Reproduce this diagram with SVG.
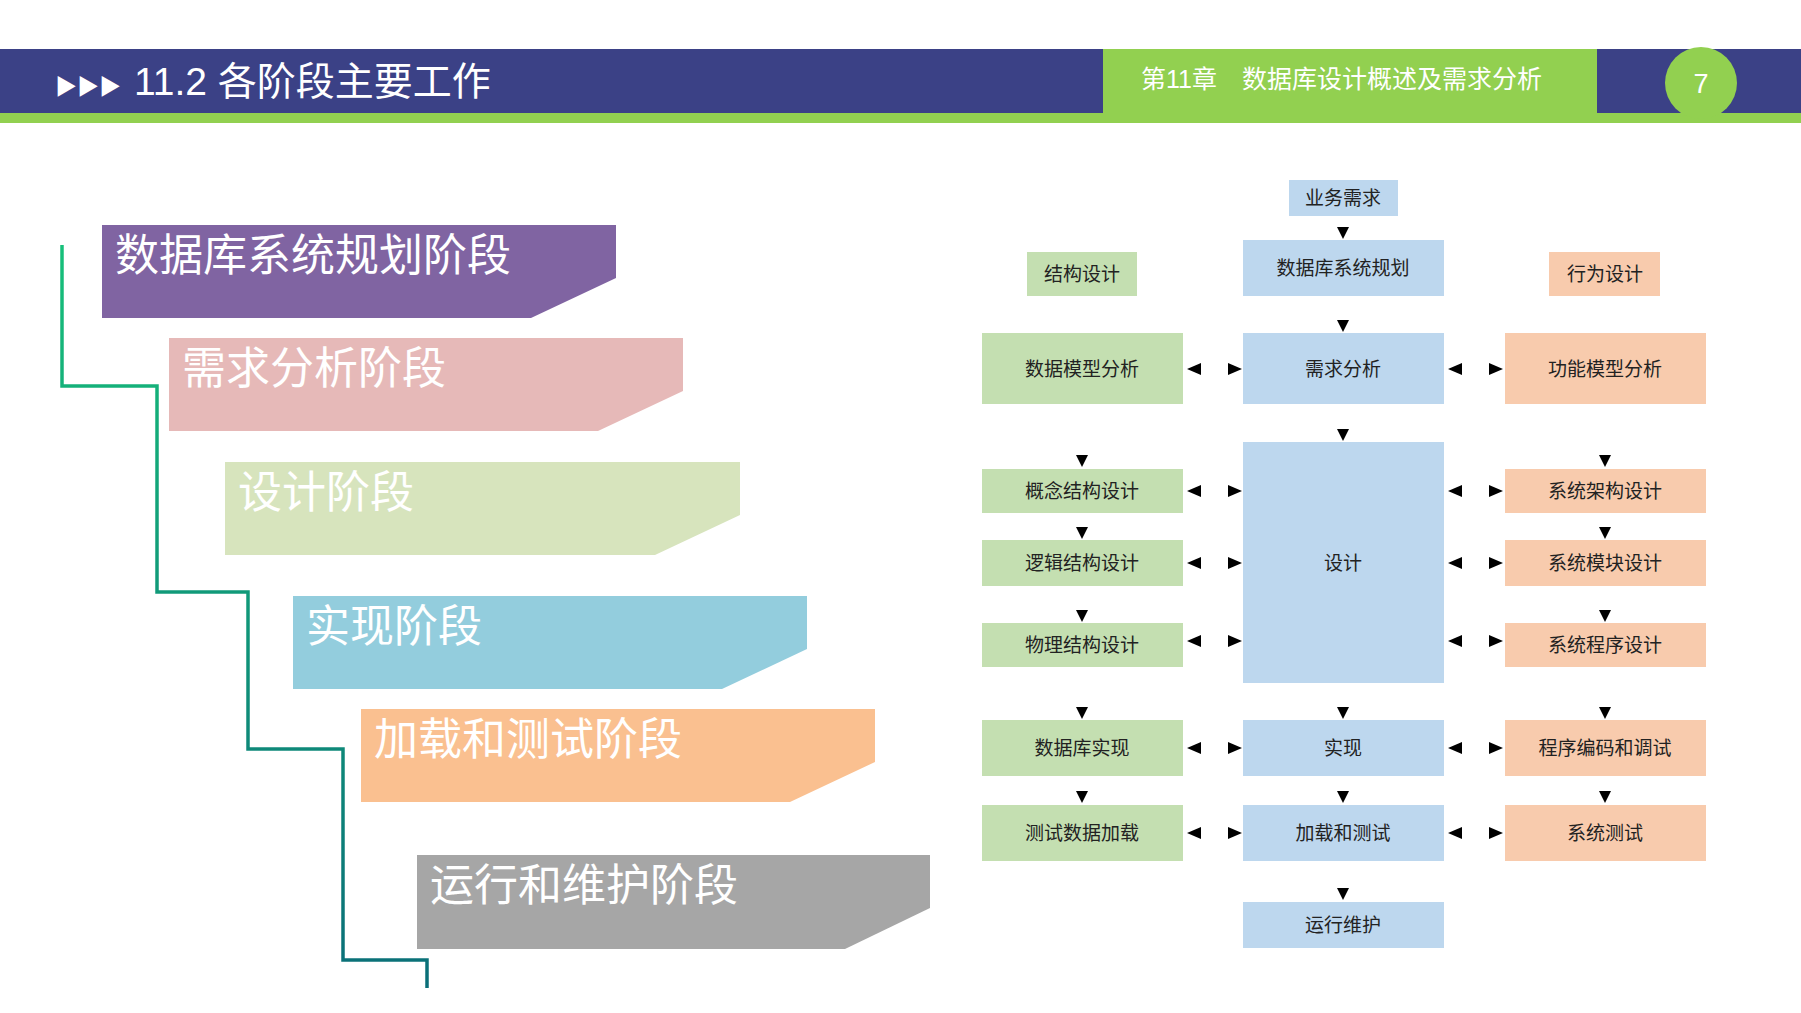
<svg xmlns="http://www.w3.org/2000/svg" xmlns:xlink="http://www.w3.org/1999/xlink" width="1801" height="1013" viewBox="0 0 1801 1013">
<style>
.hd{font-family:"Liberation Sans","Noto Sans CJK SC",sans-serif;fill:#fff}
.st{font-family:"Liberation Sans","Noto Sans CJK SC",sans-serif;fill:#fff;font-size:44px}
.bx{font-family:"Liberation Serif","Noto Sans CJK SC",serif;font-size:19px;fill:#222;text-anchor:middle;dominant-baseline:central}
.g{fill:#C4DFB1}.b{fill:#BDD7EE}.o{fill:#F8CBAD}
</style>
<defs>
<polygon id="ad" points="-6,-6 6,-6 0,6" fill="#000"/>
<polygon id="al" points="-7,0 7,-6 7,6" fill="#000"/>
<polygon id="ar" points="7,0 -7,-6 -7,6" fill="#000"/>
<linearGradient id="lg" x1="0" y1="0" x2="0" y2="1"><stop offset="0" stop-color="#17C07A"/><stop offset="1" stop-color="#0A6E78"/></linearGradient>
</defs>
<rect width="1801" height="1013" fill="#fff"/>
<g id="header">
<rect x="0" y="49" width="1801" height="64" fill="#3B4186"/>
<rect x="0" y="113" width="1801" height="10" fill="#92D050"/>
<rect x="1103" y="49" width="494" height="74" fill="#92D050"/>
<circle cx="1701" cy="83" r="36" fill="#92D050"/>
<text class="hd" x="55" y="94" font-size="22">▶▶▶</text>
<text class="hd" x="134" y="95" font-size="39">11.2 各阶段主要工作</text>
<text class="hd" x="1141" y="88" font-size="25">第11章　数据库设计概述及需求分析</text>
<text class="hd" x="1701" y="93" font-size="27" text-anchor="middle">7</text>
</g>
<g id="stairs">
<polyline points="62,245 62,386 157,386 157,592 248,592 248,749 343,749 343,960 427,960 427,988" fill="none" stroke="url(#lg)" stroke-width="3.5"/>
</g>
<g id="s1"><polygon points="102,225 616,225 616,278 531,318 102,318" fill="#8064A2"/><text class="st" x="115" y="271">数据库系统规划阶段</text></g>
<g id="s2"><polygon points="169,338 683,338 683,391 598,431 169,431" fill="#E6B9B8"/><text class="st" x="182" y="384">需求分析阶段</text></g>
<g id="s3"><polygon points="225,462 740,462 740,515 655,555 225,555" fill="#D7E4BD"/><text class="st" x="238" y="508">设计阶段</text></g>
<g id="s4"><polygon points="293,596 807,596 807,649 722,689 293,689" fill="#93CDDD"/><text class="st" x="306" y="642">实现阶段</text></g>
<g id="s5"><polygon points="361,709 875,709 875,762 790,802 361,802" fill="#FAC090"/><text class="st" x="374" y="755">加载和测试阶段</text></g>
<g id="s6"><polygon points="417,855 930,855 930,908 845,949 417,949" fill="#A6A6A6"/><text class="st" x="430" y="901">运行和维护阶段</text></g>

<g id="n1"><rect class="b" x="1289" y="180" width="109" height="36"/><text class="bx" x="1343" y="198">业务需求</text></g>
<g id="n2"><rect class="b" x="1243" y="240" width="201" height="56"/><text class="bx" x="1343" y="268">数据库系统规划</text></g>
<g id="n3"><rect class="g" x="1027" y="252" width="110" height="44"/><text class="bx" x="1082" y="274">结构设计</text></g>
<g id="n4"><rect class="o" x="1549" y="252" width="111" height="44"/><text class="bx" x="1605" y="274">行为设计</text></g>
<g id="n5"><rect class="g" x="982" y="333" width="201" height="71"/><text class="bx" x="1082" y="369">数据模型分析</text></g>
<g id="n6"><rect class="b" x="1243" y="333" width="201" height="71"/><text class="bx" x="1343" y="369">需求分析</text></g>
<g id="n7"><rect class="o" x="1505" y="333" width="201" height="71"/><text class="bx" x="1605" y="369">功能模型分析</text></g>
<g id="n8"><rect class="b" x="1243" y="442" width="201" height="241"/><text class="bx" x="1343" y="563">设计</text></g>
<g id="n9"><rect class="g" x="982" y="469" width="201" height="44"/><text class="bx" x="1082" y="491">概念结构设计</text></g>
<g id="n10"><rect class="g" x="982" y="540" width="201" height="46"/><text class="bx" x="1082" y="563">逻辑结构设计</text></g>
<g id="n11"><rect class="g" x="982" y="623" width="201" height="44"/><text class="bx" x="1082" y="645">物理结构设计</text></g>
<g id="n12"><rect class="o" x="1505" y="469" width="201" height="44"/><text class="bx" x="1605" y="491">系统架构设计</text></g>
<g id="n13"><rect class="o" x="1505" y="540" width="201" height="46"/><text class="bx" x="1605" y="563">系统模块设计</text></g>
<g id="n14"><rect class="o" x="1505" y="623" width="201" height="44"/><text class="bx" x="1605" y="645">系统程序设计</text></g>
<g id="n15"><rect class="g" x="982" y="720" width="201" height="56"/><text class="bx" x="1082" y="748">数据库实现</text></g>
<g id="n16"><rect class="b" x="1243" y="720" width="201" height="56"/><text class="bx" x="1343" y="748">实现</text></g>
<g id="n17"><rect class="o" x="1505" y="720" width="201" height="56"/><text class="bx" x="1605" y="748">程序编码和调试</text></g>
<g id="n18"><rect class="g" x="982" y="805" width="201" height="56"/><text class="bx" x="1082" y="833">测试数据加载</text></g>
<g id="n19"><rect class="b" x="1243" y="805" width="201" height="56"/><text class="bx" x="1343" y="833">加载和测试</text></g>
<g id="n20"><rect class="o" x="1505" y="805" width="201" height="56"/><text class="bx" x="1605" y="833">系统测试</text></g>
<g id="n21"><rect class="b" x="1243" y="902" width="201" height="46"/><text class="bx" x="1343" y="925">运行维护</text></g>

<g id="connectors">
<use href="#ad" x="1343" y="233"/><use href="#ad" x="1343" y="326"/><use href="#ad" x="1343" y="435"/>
<use href="#ad" x="1082" y="461"/><use href="#ad" x="1082" y="533"/><use href="#ad" x="1082" y="616"/>
<use href="#ad" x="1605" y="461"/><use href="#ad" x="1605" y="533"/><use href="#ad" x="1605" y="616"/>
<use href="#ad" x="1082" y="713"/><use href="#ad" x="1343" y="713"/><use href="#ad" x="1605" y="713"/>
<use href="#ad" x="1082" y="797"/><use href="#ad" x="1343" y="797"/><use href="#ad" x="1605" y="797"/>
<use href="#ad" x="1343" y="894"/>
<g id="h369"><use href="#al" x="1194" y="369"/><use href="#ar" x="1235" y="369"/><use href="#al" x="1455" y="369"/><use href="#ar" x="1496" y="369"/></g>
<use href="#al" x="1194" y="491"/><use href="#ar" x="1235" y="491"/><use href="#al" x="1455" y="491"/><use href="#ar" x="1496" y="491"/>
<use href="#al" x="1194" y="563"/><use href="#ar" x="1235" y="563"/><use href="#al" x="1455" y="563"/><use href="#ar" x="1496" y="563"/>
<use href="#al" x="1194" y="641"/><use href="#ar" x="1235" y="641"/><use href="#al" x="1455" y="641"/><use href="#ar" x="1496" y="641"/>
<use href="#al" x="1194" y="748"/><use href="#ar" x="1235" y="748"/><use href="#al" x="1455" y="748"/><use href="#ar" x="1496" y="748"/>
<use href="#al" x="1194" y="833"/><use href="#ar" x="1235" y="833"/><use href="#al" x="1455" y="833"/><use href="#ar" x="1496" y="833"/>
</g>
</svg>
